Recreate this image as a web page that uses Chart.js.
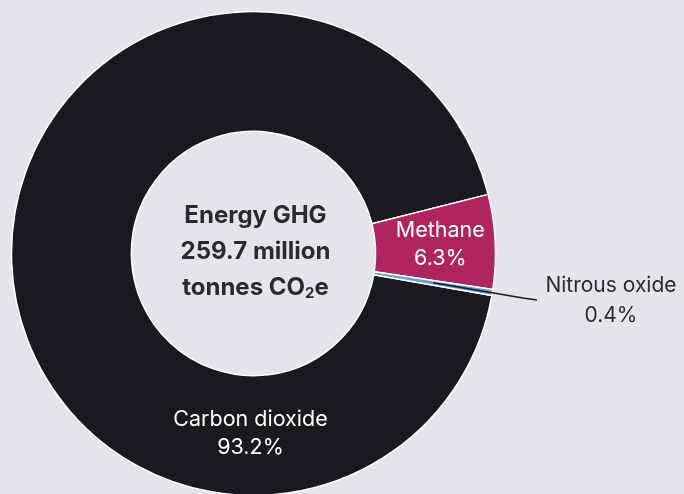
<!DOCTYPE html>
<html>
<head>
<meta charset="utf-8">
<script src="https://cdn.jsdelivr.net/npm/chart.js@4.4.1/dist/chart.umd.min.js"></script>
<style>
  html, body { margin: 0; padding: 0; background: #e4e5e9; }
  #wrap { position: relative; width: 684px; height: 494px; }
</style>
</head>
<body>
<div id="wrap"><canvas id="ghg" width="684" height="494"></canvas></div>
<script>
// Répartition des émissions énergétiques par gaz (% du total CO2e)
const gases   = ['Carbon dioxide', 'Methane', 'Nitrous oxide'];
const shares  = [93.2, 6.3, 0.4];
const colours = ['#1a1a1e', '#b0245f', '#5f9fd6'];
const centreLines = ['Energy GHG', '259.7 million', 'tonnes CO'];

const FONT = 'Inter, "Noto Sans", sans-serif';

// Étiquettes des segments + texte central
const ghgLabels = {
  id: 'ghgLabels',
  afterDatasetsDraw(chart) {
    const ctx = chart.ctx;
    const arcs = chart.getDatasetMeta(0).data;
    const pct = v => v.toFixed(1) + '%';
    ctx.save();
    ctx.textAlign = 'center';
    ctx.textBaseline = 'middle';
    ctx.font = '21.5px ' + FONT;

    // CO2 : bas de l'anneau
    const a0 = arcs[0];
    ctx.fillStyle = '#ffffff';
    ctx.fillText(gases[0], a0.x - 3, a0.y + 166);
    ctx.fillText(pct(shares[0]), a0.x - 3, a0.y + 194);

    // Méthane : milieu de l'arc
    const a1 = arcs[1];
    const m1 = (a1.startAngle + a1.endAngle) / 2;
    const r1 = (a1.innerRadius + a1.outerRadius) / 2 + 5;
    const lx = a1.x + Math.cos(m1) * r1, ly = a1.y + Math.sin(m1) * r1;
    ctx.fillText(gases[1], lx, ly - 14);
    ctx.fillText(pct(shares[1]), lx, ly + 14);

    // Protoxyde d'azote : ligne de rappel vers l'extérieur
    const a2 = arcs[2];
    const m2 = (a2.startAngle + a2.endAngle) / 2;
    const r2 = (a2.innerRadius + a2.outerRadius) / 2;
    const sx = a2.x + Math.cos(m2) * r2, sy = a2.y + Math.sin(m2) * r2;
    ctx.strokeStyle = '#1a1a1e';
    ctx.lineWidth = 1.5;
    ctx.beginPath();
    ctx.moveTo(sx, sy);
    ctx.lineTo(523, 298);
    ctx.lineTo(537, 300);
    ctx.stroke();
    ctx.fillStyle = '#2b2b2f';
    ctx.font = '21px ' + FONT;
    ctx.fillText(gases[2], 611, 286);
    ctx.fillText(pct(shares[2]), 611, 316);

    // Centre
    const cx = a0.x, cy = a0.y;
    const big = 'bold 24px ' + FONT, small = 'bold 15px ' + FONT;
    ctx.fillStyle = '#2b2b2f';
    ctx.font = big;
    ctx.fillText(centreLines[0], cx + 2, cy - 38);
    ctx.fillText(centreLines[1], cx + 2, cy - 2);
    // "tonnes CO2e" avec indice
    const base = centreLines[2];
    const wBase = ctx.measureText(base).width;
    const wE = ctx.measureText('e').width;
    ctx.font = small;
    const wSub = ctx.measureText('2').width;
    let x = cx + 2 - (wBase + wSub + wE) / 2;
    const y3 = cy + 34;
    ctx.textAlign = 'left';
    ctx.font = big;
    ctx.fillText(base, x, y3);
    x += wBase;
    ctx.font = small;
    ctx.fillText('2', x, y3 + 6);
    x += wSub;
    ctx.font = big;
    ctx.fillText('e', x, y3);
    ctx.restore();
  }
};

new Chart(document.getElementById('ghg'), {
  type: 'doughnut',
  data: {
    labels: gases,
    datasets: [{
      data: shares,
      backgroundColor: colours,
      borderColor: '#ffffff',
      borderWidth: 1.5,
      hoverOffset: 0
    }]
  },
  options: {
    responsive: false,
    animation: false,
    rotation: 100,
    radius: 242,
    cutout: 121,
    layout: { padding: { left: 0, right: 177, top: 13, bottom: 0 } },
    plugins: {
      legend: { display: false },
      tooltip: { enabled: false }
    }
  },
  plugins: [ghgLabels]
});
</script>
</body>
</html>
